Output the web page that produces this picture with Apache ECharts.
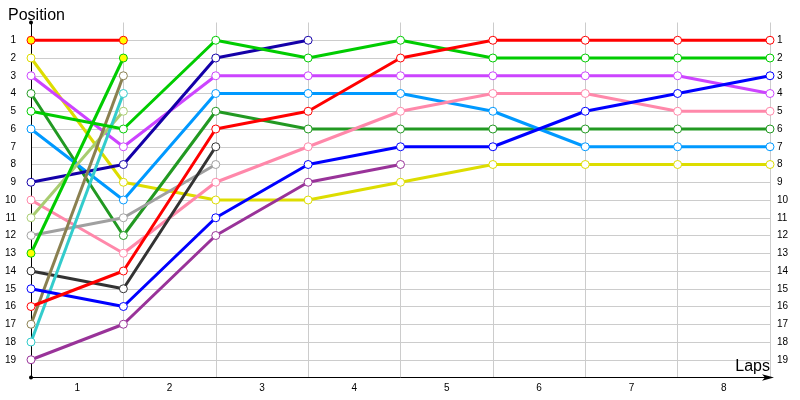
<!DOCTYPE html>
<html>
<head>
<meta charset="utf-8">
<script src="https://cdn.jsdelivr.net/npm/echarts@6/dist/echarts.min.js"></script>
<style>
  html, body { margin: 0; padding: 0; background: #fff; }
  #chart { width: 800px; height: 400px; }
</style>
</head>
<body>
<div id="chart"></div>
<script>
// lap labels shown between the grid lines
const lapLabels = ['1', '2', '3', '4', '5', '6', '7', '8'];
const positionTicks = [1, 2, 3, 4, 5, 6, 7, 8, 9, 10, 11, 12, 13, 14, 15, 16, 17, 18, 19];

// position of each car at start (index 0) and after each lap
const redA = [1, 1];
const yellow = [2, 9, 10, 10, 9, 8, 8, 8, 8];
const violet = [3, 7, 3, 3, 3, 3, 3, 3, 4];
const darkGreen = [4, 12, 5, 6, 6, 6, 6, 6, 6];
const green = [5, 6, 1, 2, 1, 2, 2, 2, 2];
const lightBlue = [6, 10, 4, 4, 4, 5, 7, 7, 7];
const navy = [9, 8, 2, 1];
const pink = [10, 13, 9, 7, 5, 4, 4, 5, 5];
const paleGreen = [11, 5];
const grey = [12, 11, 8];
const greenB = [13, 2];
const black = [14, 15, 7];
const blue = [15, 16, 11, 8, 7, 7, 5, 4, 3];
const red = [16, 14, 6, 5, 2, 1, 1, 1, 1];
const olive = [17, 3];
const cyan = [18, 4];
const purple = [19, 17, 12, 9, 8];

// points drawn with a yellow fill
const yellowFilled = { redA: [0, 1], greenB: [0, 1] };

const cars = [
  { key: 'redA', data: redA, color: '#ff0000' },
  { key: 'yellow', data: yellow, color: '#dddd00' },
  { key: 'violet', data: violet, color: '#cc44ff' },
  { key: 'darkGreen', data: darkGreen, color: '#229922' },
  { key: 'lightBlue', data: lightBlue, color: '#0099ff' },
  { key: 'navy', data: navy, color: '#1400a8' },
  { key: 'pink', data: pink, color: '#ff88aa' },
  { key: 'paleGreen', data: paleGreen, color: '#a8cc70' },
  { key: 'grey', data: grey, color: '#a0a0a0' },
  { key: 'greenB', data: greenB, color: '#00cc00' },
  { key: 'black', data: black, color: '#333333' },
  { key: 'olive', data: olive, color: '#8a8050' },
  { key: 'cyan', data: cyan, color: '#33cccc' },
  { key: 'purple', data: purple, color: '#993399' },
  { key: 'blue', data: blue, color: '#0000ff' },
  { key: 'green', data: green, color: '#00cc00' },
  { key: 'red', data: red, color: '#ff0000' }
];

const series = cars.map(function (car) {
  const filled = yellowFilled[car.key] || [];
  return {
    type: 'line',
    xAxisIndex: 0,
    yAxisIndex: 0,
    symbol: 'circle',
    symbolSize: 8,
    lineStyle: { color: car.color, width: 3 },
    itemStyle: { color: '#ffffff', borderColor: car.color, borderWidth: 1 },
    data: car.data.map(function (pos, lap) {
      if (filled.indexOf(lap) >= 0) {
        return { value: [lap, pos], itemStyle: { color: '#ffff00' } };
      }
      return [lap, pos];
    })
  };
});

const chart = echarts.init(document.getElementById('chart'));
const labelFont = { color: '#000', fontSize: 10, fontFamily: 'Liberation Sans' };

chart.setOption({
  animation: false,
  title: [
    { text: 'Position', left: 3, top: 3,
      textStyle: { fontSize: 16, fontWeight: 'normal', color: '#000', fontFamily: 'Liberation Sans' } },
    { text: 'Laps', right: 25, top: 354,
      textStyle: { fontSize: 16, fontWeight: 'normal', color: '#000', fontFamily: 'Liberation Sans' } }
  ],
  grid: { left: 31, right: 30, top: 22.5, bottom: 22.5, containLabel: false },
  xAxis: [
    {
      type: 'value', min: 0, max: 8, interval: 1, position: 'bottom',
      axisLine: { show: true, onZero: false, lineStyle: { color: '#000', width: 1 },
        symbol: ['none', 'arrow'], symbolSize: [5, 12], symbolOffset: [0, 4] },
      axisTick: { show: false },
      axisLabel: { show: false },
      splitLine: { show: true, lineStyle: { color: '#cccccc', width: 1 } }
    },
    {
      type: 'category', data: lapLabels, boundaryGap: true,
      position: 'bottom',
      axisLine: { show: false, onZero: false },
      axisTick: { show: false },
      axisLabel: Object.assign({ margin: 6 }, labelFont),
      splitLine: { show: false }
    }
  ],
  yAxis: [
    {
      type: 'value', min: 0, max: 20, interval: 1, inverse: true, position: 'left',
      axisLine: { show: true, onZero: false, lineStyle: { color: '#000', width: 1 },
        symbol: ['circle', 'circle'], symbolSize: [4, 4] },
      axisTick: { show: false },
      axisLabel: Object.assign({
        margin: 15,
        formatter: function (v) { return positionTicks.indexOf(v) >= 0 ? String(v) : ''; }
      }, labelFont),
      splitLine: { show: true, showMinLine: false, lineStyle: { color: '#cccccc', width: 1 } }
    },
    {
      type: 'value', min: 0, max: 20, interval: 1, inverse: true, position: 'right',
      axisLine: { show: false, onZero: false },
      axisTick: { show: false },
      axisLabel: Object.assign({
        margin: 7,
        formatter: function (v) { return positionTicks.indexOf(v) >= 0 ? String(v) : ''; }
      }, labelFont),
      splitLine: { show: false }
    }
  ],
  series: series
});
</script>
</body>
</html>
